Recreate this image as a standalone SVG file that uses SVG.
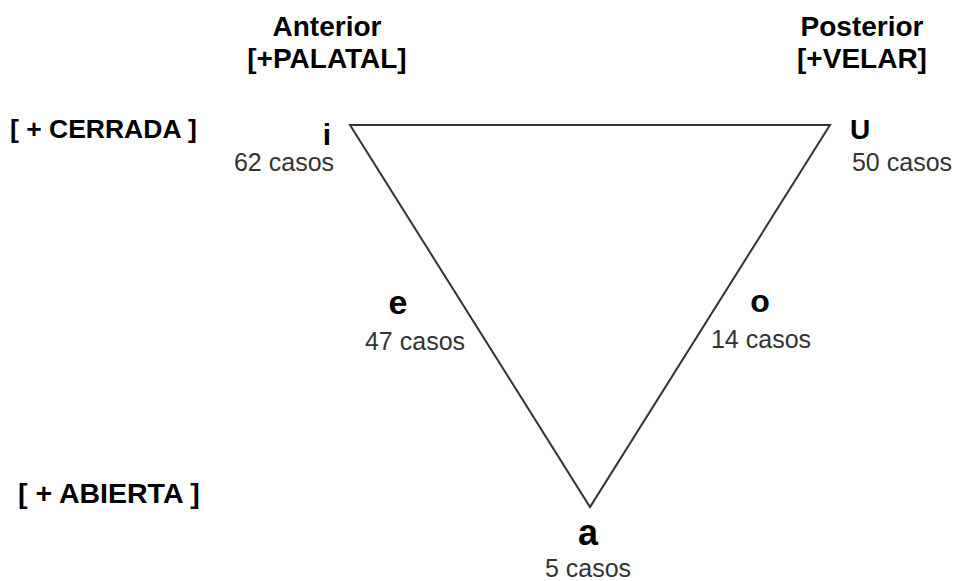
<svg xmlns="http://www.w3.org/2000/svg" width="956" height="581" viewBox="0 0 956 581">
<style>
.h{font-family:"Liberation Sans",Arial,sans-serif;font-weight:bold;font-size:28px;fill:#000}
.b{font-family:"Liberation Sans",Arial,sans-serif;font-weight:bold;fill:#000}
.v{font-family:"Liberation Sans",Arial,sans-serif;font-weight:bold;fill:#000}
.c{font-family:"Liberation Sans",Arial,sans-serif;font-size:25px;fill:#333}
</style>
<rect width="956" height="581" fill="#fff"/>
<g id="connectors">
<polygon points="350,125 830,125 590,507" fill="none" stroke="#333" stroke-width="2"/>
</g>
<g id="anterior"><text class="h" x="327" y="36" text-anchor="middle">Anterior</text><text class="h" x="327" y="68" text-anchor="middle">[+PALATAL]</text></g>
<g id="posterior"><text class="h" x="862" y="36" text-anchor="middle">Posterior</text><text class="h" x="862" y="68" text-anchor="middle">[+VELAR]</text></g>
<g id="cerrada"><text class="b" font-size="26.5" x="10" y="138">[ + CERRADA ]</text></g>
<g id="abierta"><text class="b" font-size="28.5" x="18" y="503">[ + ABIERTA ]</text></g>
<g id="i"><text class="v" font-size="30" x="327" y="145" text-anchor="middle">i</text><text class="c" x="284" y="171" text-anchor="middle">62 casos</text></g>
<g id="u"><text class="v" font-size="28" x="860" y="139" text-anchor="middle">U</text><text class="c" x="902" y="171" text-anchor="middle">50 casos</text></g>
<g id="e"><text class="v" font-size="34" x="398" y="314" text-anchor="middle">e</text><text class="c" x="415" y="350" text-anchor="middle">47 casos</text></g>
<g id="o"><text class="v" font-size="32" x="760" y="312" text-anchor="middle">o</text><text class="c" x="761" y="348" text-anchor="middle">14 casos</text></g>
<g id="a"><text class="v" font-size="36" x="588" y="545" text-anchor="middle">a</text><text class="c" x="588" y="577" text-anchor="middle">5 casos</text></g>
</svg>
